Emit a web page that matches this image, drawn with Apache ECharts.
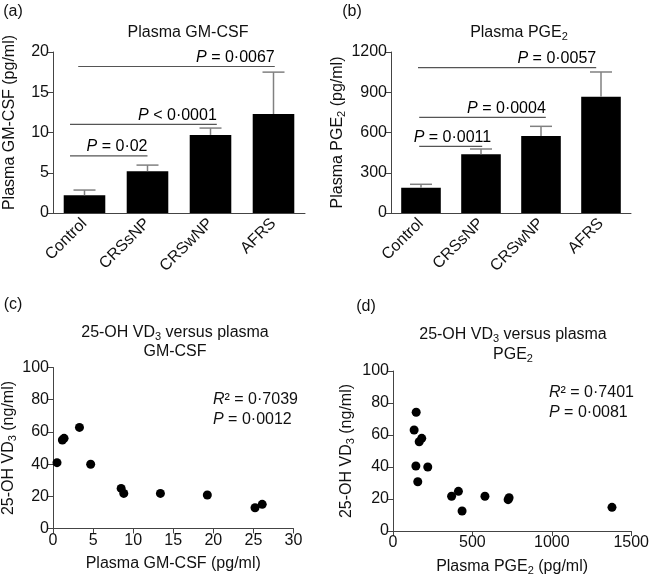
<!DOCTYPE html>
<html>
<head>
<meta charset="utf-8">
<script src="https://cdn.jsdelivr.net/npm/echarts@6/dist/echarts.min.js"></script>
<style>html,body{margin:0;padding:0;background:#fff}#c{width:652px;height:580px}</style>
</head>
<body>
<div id="c"></div>
<script>
// ---------------- data ----------------
const categories = ['Control', 'CRSsNP', 'CRSwNP', 'AFRS'];
const gmcsfMean = [2.2, 5.2, 9.7, 12.3];
const gmcsfErr = [0.65, 0.75, 0.85, 5.2];
const pge2Mean = [189, 438, 574, 867];
const pge2Err = [25, 39, 72, 184];

const sigFrom = [0, 0, 0];
const sigTo = [1, 2, 3];
const sigYA = [7.1, 11.0, 18.2];
const sigLabelsA = [['P', ' = 0·02'], ['P', ' < 0·0001'], ['P', ' = 0·0067']];
const sigYB = [497, 713, 1084];
const sigLabelsB = [['P', ' = 0·0011'], ['P', ' = 0·0004'], ['P', ' = 0·0057']];

const gmX = [0.5, 1.17, 1.38, 3.3, 4.7, 8.5, 8.83, 13.4, 19.25, 25.2, 26.1];
const gmY = [40.9, 55.0, 56.0, 62.8, 39.9, 24.9, 21.8, 21.8, 20.8, 12.9, 15.0];
const pgX = [146, 133, 165, 181, 144, 219, 156, 369, 412, 435, 579, 725, 731, 1379];
const pgY = [74.2, 63.1, 55.8, 57.9, 40.6, 40.0, 30.8, 21.7, 24.8, 12.5, 21.7, 19.6, 20.8, 14.8];

const yTicksA = [0, 20, 5];
const yTicksB = [0, 1200, 300];
const xTicksC = [0, 30, 5];
const xTicksD = [0, 1500, 500];
const yTicksCD = [0, 100, 20];

// ---------------- style ----------------
const FONT = '"Liberation Sans", Arial, Helvetica, sans-serif';
const FS = 16;
const TXT = '#111';
const AX = '#444';
const sigStartShiftA = [-0.23, -0.23, -0.1];
const sigEndShiftA = [0, 0.1, 0.02];
const sigStartShiftB = [-0.03, -0.03, -0.05];
const sigEndShiftB = [0.02, 0.08, -0.08];

const baseRich = {
  n: { fontFamily: FONT, fontSize: FS, color: TXT },
  i: { fontFamily: FONT, fontSize: FS, color: TXT, fontStyle: 'italic' },
  s: { fontFamily: FONT, fontSize: 11, color: TXT, padding: [7, 0, 0, 0] }
};

function valueAxis(grid, t, extra) {
  return Object.assign({
    type: 'value', gridIndex: grid, min: t[0], max: t[1], interval: t[2],
    splitLine: { show: false },
    axisLine: { show: true, lineStyle: { color: AX, width: 1 } },
    axisTick: { show: true, length: 5, lineStyle: { color: AX } },
    axisLabel: { fontFamily: FONT, fontSize: FS, color: TXT, margin: 4, formatter: v => String(v) },
    nameLocation: 'middle',
    nameTextStyle: { fontFamily: FONT, fontSize: FS, color: TXT, rich: baseRich }
  }, extra || {});
}
function catAxis(grid) {
  return {
    type: 'category', gridIndex: grid, data: categories,
    axisLine: { show: true, lineStyle: { color: AX, width: 1 } },
    axisTick: { show: false },
    axisLabel: { fontFamily: FONT, fontSize: FS, color: TXT, rotate: 45, margin: 8, interval: 0 }
  };
}

function errRender(params, api) {
  const x = api.value(0), m = api.value(1), e = api.value(2);
  const p0 = api.coord([x, m]);
  const p1 = api.coord([x, m + e]);
  const c = { stroke: '#808080', lineWidth: 1.5 };
  return { type: 'group', children: [
    { type: 'line', shape: { x1: p0[0], y1: p0[1], x2: p1[0], y2: p1[1] }, style: c },
    { type: 'line', shape: { x1: p1[0] - 11, y1: p1[1], x2: p1[0] + 11, y2: p1[1] }, style: c }
  ]};
}
function sigRender(labels, sShift, eShift, firstExtra) {
  return function (params, api) {
    const i = params.dataIndex;
    const band = api.size([1, 0])[0];
    const a = api.coord([api.value(0), api.value(2)]);
    const b = api.coord([api.value(1), api.value(2)]);
    const x1 = a[0] + sShift[i] * band;
    const x2 = b[0] + eShift[i] * band;
    return { type: 'group', children: [
      { type: 'line', shape: { x1: x1, y1: a[1], x2: x2, y2: a[1] }, style: { stroke: '#555', lineWidth: 1.2 } },
      { type: 'text', x: x2 + (i === 0 ? firstExtra : 0), y: a[1] - 1,
        style: { text: '{i|' + labels[i][0] + '}{n|' + labels[i][1] + '}', rich: baseRich,
                 align: 'right', verticalAlign: 'bottom', font: FS + 'px ' + FONT } }
    ]};
  };
}

function gtext(x, y, text, align) {
  return { type: 'text', x: x, y: y,
    style: { text: text, rich: baseRich, font: FS + 'px ' + FONT, fill: TXT,
             align: align || 'center', verticalAlign: 'middle' } };
}

const chart = echarts.init(document.getElementById('c'), null, { renderer: 'canvas' });
chart.setOption({
  animation: false,
  backgroundColor: '#fff',
  textStyle: { fontFamily: FONT },
  grid: [
    { left: 53, top: 52, width: 252, height: 161 },
    { left: 391, top: 52, width: 240, height: 161 },
    { left: 53, top: 367.5, width: 240.5, height: 161 },
    { left: 393, top: 371, width: 240, height: 160 }
  ],
  xAxis: [
    catAxis(0),
    catAxis(1),
    valueAxis(2, xTicksC, { name: '{n|Plasma GM-CSF (pg/ml)}', nameGap: 27 }),
    valueAxis(3, xTicksD, { name: '{n|Plasma PGE}{s|2}{n| (pg/ml)}', nameGap: 27 })
  ],
  yAxis: [
    valueAxis(0, yTicksA, { name: '{n|Plasma GM-CSF (pg/ml)}', nameRotate: 90, nameGap: 35,
      nameTextStyle: { rich: baseRich, padding: [0, 0, 0, 20] } }),
    valueAxis(1, yTicksB, { name: '{n|Plasma PGE}{s|2}{n| (pg/ml)}', nameRotate: 90, nameGap: 44,
      nameTextStyle: { rich: baseRich } }),
    valueAxis(2, yTicksCD, { name: '{n|25-OH VD}{s|3}{n| (ng/ml)}', nameRotate: 90, nameGap: 35,
      nameTextStyle: { rich: baseRich } }),
    valueAxis(3, yTicksCD, { name: '{n|25-OH VD}{s|3}{n| (ng/ml)}', nameRotate: 90, nameGap: 37,
      nameTextStyle: { rich: baseRich } })
  ],
  series: [
    { type: 'bar', xAxisIndex: 0, yAxisIndex: 0, data: gmcsfMean, barWidth: '66%',
      itemStyle: { color: '#000' }, z: 2 },
    { type: 'bar', xAxisIndex: 1, yAxisIndex: 1, data: pge2Mean, barWidth: '66%',
      itemStyle: { color: '#000' }, z: 2 },
    { type: 'custom', xAxisIndex: 0, yAxisIndex: 0, z: 3,
      data: gmcsfMean.map((m, i) => [i, m, gmcsfErr[i]]), encode: { x: 0, y: 1 }, renderItem: errRender },
    { type: 'custom', xAxisIndex: 1, yAxisIndex: 1, z: 3,
      data: pge2Mean.map((m, i) => [i, m, pge2Err[i]]), encode: { x: 0, y: 1 }, renderItem: errRender },
    { type: 'custom', xAxisIndex: 0, yAxisIndex: 0, z: 4,
      data: sigFrom.map((f, i) => [f, sigTo[i], sigYA[i]]), encode: { x: 0, y: 2 },
      renderItem: sigRender(sigLabelsA, sigStartShiftA, sigEndShiftA, 0) },
    { type: 'custom', xAxisIndex: 1, yAxisIndex: 1, z: 4,
      data: sigFrom.map((f, i) => [f, sigTo[i], sigYB[i]]), encode: { x: 0, y: 2 },
      renderItem: sigRender(sigLabelsB, sigStartShiftB, sigEndShiftB, 9) },
    { type: 'scatter', xAxisIndex: 2, yAxisIndex: 2, symbolSize: 9,
      data: gmX.map((x, i) => [x, gmY[i]]), itemStyle: { color: '#000', opacity: 1 } },
    { type: 'scatter', xAxisIndex: 3, yAxisIndex: 3, symbolSize: 9,
      data: pgX.map((x, i) => [x, pgY[i]]), itemStyle: { color: '#000', opacity: 1 } }
  ],
  graphic: [
    gtext(13, 12, '{n|(a)}'),
    gtext(352, 12, '{n|(b)}'),
    gtext(13, 305, '{n|(c)}'),
    gtext(366, 307, '{n|(d)}'),
    gtext(188, 33, '{n|Plasma GM-CSF}'),
    gtext(519, 33, '{n|Plasma PGE}{s|2}'),
    gtext(175, 333, '{n|25-OH VD}{s|3}{n| versus plasma}'),
    gtext(175, 352, '{n|GM-CSF}'),
    gtext(513, 335, '{n|25-OH VD}{s|3}{n| versus plasma}'),
    gtext(513, 355, '{n|PGE}{s|2}'),
    gtext(213, 400, '{i|R}{n|² = 0·7039}', 'left'),
    gtext(213, 420, '{i|P}{n| = 0·0012}', 'left'),
    gtext(549, 393, '{i|R}{n|² = 0·7401}', 'left'),
    gtext(549, 413, '{i|P}{n| = 0·0081}', 'left')
  ]
});
</script>
</body>
</html>
